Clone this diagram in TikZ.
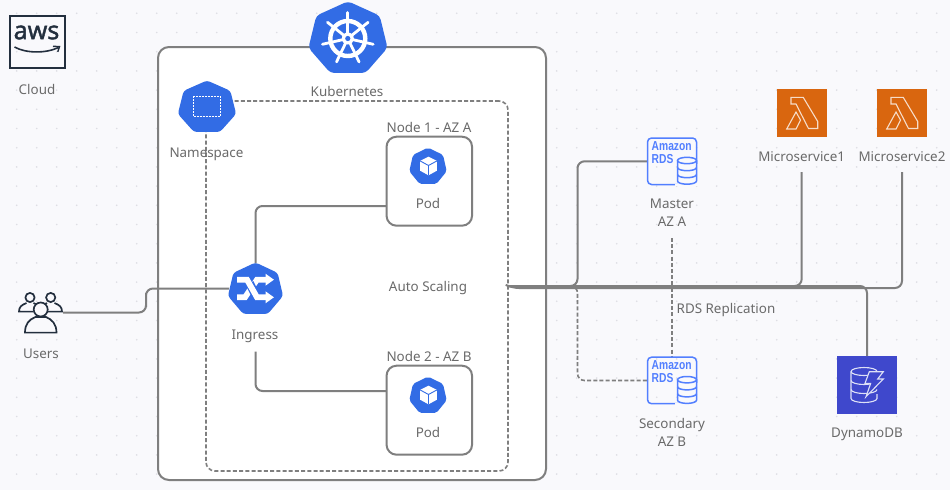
\documentclass[tikz,border=0pt]{standalone}
\usepackage{fontspec}
\setmainfont{Noto Sans}
\newfontfamily\rdsfont{Liberation Sans}
\newfontfamily\awsfont[FakeBold=1.5]{Noto Sans}
\usetikzlibrary{calc}
\definecolor{bgc}{HTML}{F9F9FC}
\definecolor{dotc}{HTML}{DEDEE4}
\definecolor{linec}{HTML}{7F7F7F}
\definecolor{lblc}{HTML}{6A6A6A}
\definecolor{kblue}{HTML}{326CE5}
\definecolor{rdsblue}{HTML}{527FFF}
\definecolor{lamb}{HTML}{D9660F}
\definecolor{lambl}{HTML}{F6DCC8}
\definecolor{dyn}{HTML}{3F48CC}
\definecolor{dynl}{HTML}{DDE0F6}
\definecolor{awsc}{HTML}{232F3E}
\tikzset{
  conn/.style={draw=linec,line width=2pt,rounded corners=7pt},
  dconn/.style={draw=linec,line width=1.6pt,dash pattern=on 4pt off 2.2pt,rounded corners=7pt},
  lbl2/.style={text=lblc,inner sep=0pt,align=center,font=\fontsize{13.4}{18}\selectfont},
  lbl/.style={lbl2,text height=11pt,text depth=0pt},
  box/.style={inner sep=0pt,outer sep=0pt},
  mainbox/.style={box,draw=linec,line width=2pt,fill=white,rounded corners=11pt,minimum width=388pt,minimum height=433pt},
  scalebox/.style={box,draw=linec,line width=1.6pt,dash pattern=on 4pt off 2.2pt,rounded corners=9pt,minimum width=302pt,minimum height=370pt},
  nodebox/.style={box,draw=linec,line width=2pt,fill=white,rounded corners=10pt,minimum width=85.5pt,minimum height=89pt},
  lambdabox/.style={box,fill=lamb,minimum width=50pt,minimum height=48pt},
  rdsbox/.style={box,minimum width=49.5pt,minimum height=47pt},
}
\newcommand\hept[6]{%
  \node[box,minimum width=#4pt,minimum height=#5pt] (#1) at (#2,#3) {};
  \begin{scope}[shift={(#2,#3)},x=#4*0.52pt,y=-#5*0.51pt]
    \fill[kblue,rounded corners=#6pt] (0,-1) -- (.802,-.603) -- (1,.286) -- (.445,.98) -- (-.445,.98) -- (-1,.286) -- (-.802,-.603) -- cycle;
  \end{scope}}
\newcommand\cubeicon[2]{%
  \begin{scope}[shift={(#1,#2)}]
    \fill[white] (0,-8.8) -- (8.4,-4.6) -- (8.4,5.2) -- (0,9.8) -- (-8.4,5.2) -- (-8.4,-4.6) -- cycle;
    \draw[kblue,line width=.9pt] (-8.4,-4.6) -- (0,0) -- (8.4,-4.6) (0,0) -- (0,9.8);
  \end{scope}}
\newcommand\lambdaicon[2]{%
  \begin{scope}[shift={(#1,#2)}]
    \draw[lambl,line width=1.1pt,line join=miter] (14,8.3) -- (26.2,8.3) -- (40.7,32.5) -- (40.7,39.5) -- (31.5,39.5) -- (19,15) -- (14,15) -- cycle;
    \draw[lambl,line width=1.1pt] (9.7,40) -- (19,23) -- (23.5,31) -- (19,40) -- cycle;
  \end{scope}}
\newcommand\rdsicon[3]{%
  \begin{scope}[shift={(#1,#2)}]
    \draw[rdsblue,line width=1.5pt,rounded corners=4pt] (0,0) rectangle (49,46.5);
    \fill[bgc] (27,46) rectangle (50,48);
    \fill[bgc] (30,26) rectangle (50,46);
    \node[box,text=rdsblue,font=\rdsfont\bfseries\fontsize{13}{13.2}\selectfont,anchor=north west,align=left] (#3) at (4.2,3.6) {\scalebox{.79}[1]{Amazon}\\\scalebox{.79}[1]{RDS}};
    \draw[rdsblue,line width=1.5pt,fill=bgc] (30,22.5) -- (30,43) arc[start angle=180,end angle=360,x radius=9.5,y radius=-3.2] -- (49,22.5);
    \draw[rdsblue,line width=1.5pt,fill=bgc] (39.5,22.5) ellipse (9.5 and 3.2);
    \draw[rdsblue,line width=1.5pt] (30,29.5) arc[start angle=180,end angle=360,x radius=9.5,y radius=-3.2];
    \draw[rdsblue,line width=1.5pt] (30,36.5) arc[start angle=180,end angle=360,x radius=9.5,y radius=-3.2];
  \end{scope}}
\begin{document}
\begin{tikzpicture}[x=1pt,y=-1pt]
\useasboundingbox (0,0) rectangle (950,490);
\fill[bgc] (0,0) rectangle (950,490);
\foreach \i in {0,...,46}{\foreach \j in {0,...,24}{\fill[dotc] ({16.7+20*\i},{13.3+19.2*\j}) circle (.9);}}
% containers
\node[mainbox] (k8s) at (352,263.5) {};
\node[scalebox] (scaling) at (357,286) {};
\node[nodebox] (node1) at (429.3,181.2) {};
\node[nodebox] (node2) at (429.3,410.2) {};
% free ends and bends
\coordinate (node1in) at (386.5,206);
\coordinate (node2in) at (386.5,391);
\coordinate (ingbelow) at (255.5,351.5);
\coordinate (ubend) at (146,300);
\coordinate (mbend) at (577.5,220);
\coordinate (sbend) at (577.5,340);
\coordinate (ms1end) at (801.7,172);
\coordinate (ms2end) at (902,172);
\coordinate (ms2bus) at (512,288);
\coordinate (repltop) at (672,238);
% icon boxes
\node[box,minimum width=45pt,minimum height=43pt] (users) at (40.5,312.5) {};
\node[box,draw=awsc,line width=2pt,minimum width=55pt,minimum height=52pt] (awsbox) at (37,41.5) {};
\hept{ns}{207}{106.5}{56}{51}{3}
\hept{ingress}{255.5}{288.5}{53}{51}{3}
\hept{k8slogo}{348}{37.5}{76}{71}{4}
\hept{pod1}{428}{166}{36}{36}{2}
\hept{pod2}{428}{395}{36}{36}{2}
\node[rdsbox] (master) at (672,161.3) {};
\node[rdsbox] (secondary) at (672,380.5) {};
\node[lambdabox] (ms1) at (802,113) {};
\node[lambdabox] (ms2) at (902,113) {};
\node[box,fill=dyn,minimum width=60pt,minimum height=57.5pt] (dynamo) at (867,384.8) {};
% connectors
\draw[conn] (users.east) -| (ubend) |- (ingress.west);
\draw[conn] (ingress.north) |- (node1in);
\draw[conn] (ingbelow) |- (node2in);
\draw[dconn] (scaling.east) -| (sbend) |- (secondary.west);
\draw[conn] (scaling.east) -| (mbend) |- (master.west);
\draw[conn] (ms1end) |- (scaling.east);
\draw[conn] (ms2end) |- (ms2bus) -- (scaling.east);
\draw[conn] (dynamo.north) |- (scaling.east);
\draw[dconn,rounded corners=0pt] (repltop) -- (secondary.north);
% wheel
\begin{scope}[shift={(347.8,38.5)}]
  \draw[white,line width=4.4pt] (0,0) circle (17.5);
  \foreach \a in {0,...,6}{\draw[white,line width=2.8pt,line cap=round] (0,0) -- ({90+\a*360/7}:-26);}
  \fill[white] (0,0) circle (6);
  \fill[kblue] (0,0) circle (2.6);
\end{scope}
% namespace mark
\draw[white,line width=.9pt,dash pattern=on 2pt off 1pt] (193.3,96) rectangle (220,116.7);
% ingress mark
\draw[white,line width=5.8pt,line join=miter] (237,297.3) -- (245,297.3) -- (257,279.7) -- (266,279.7);
\fill[white] (265.5,273.7) -- (273.9,279.7) -- (265.5,285.7) -- cycle;
\draw[kblue,line width=8.5pt] (249.5,283) -- (254.5,293);
\draw[white,line width=5.8pt,line join=miter] (237,279.7) -- (247,279.7) -- (257,297.3) -- (266,297.3);
\fill[white] (265.5,291.3) -- (273.9,297.3) -- (265.5,303.3) -- cycle;
\cubeicon{428.5}{165.5}
\cubeicon{428.5}{394.5}
\rdsicon{647.5}{138}{rdstxtA}
\rdsicon{647.5}{357.2}{rdstxtB}
\lambdaicon{777}{89}
\lambdaicon{877}{89}
% dynamo mark
\begin{scope}[dynl,line width=1.1pt]
  \draw (851,371.5) -- (851,398.5) arc[start angle=180,end angle=360,x radius=13,y radius=-4] -- (877,394);
  \draw (864,371.5) ellipse (13 and 4);
  \draw (851,380.5) arc[start angle=180,end angle=300,x radius=13,y radius=-4];
  \draw (851,389.5) arc[start angle=180,end angle=360,x radius=13,y radius=-4];
  \draw[fill=dyn,line join=miter] (869.3,371.7) -- (883.3,371.7) -- (877.7,379) -- (883.3,379) -- (866,396.7) -- (870.7,383.3) -- (865,383.3) -- cycle;
\end{scope}
% aws mark
\node[box,text=awsc,font=\awsfont\fontsize{25}{25}\selectfont] (awstxt) at (36.5,32.5) {aws};
\draw[awsc,line width=1.6pt] (14.5,47) .. controls (26,53.5) and (46,53.5) .. (58.5,47.5);
\draw[awsc,line width=1.4pt] (53,46.3) -- (59.5,46.6) -- (57.8,51.8);
% users mark
\begin{scope}[awsc,line width=1.7pt]
  \draw[line join=round] (30,297.5) circle (4.6);
  \draw (50.7,297.5) circle (4.6);
  \draw (33,311.6) -- (19,311.6) .. controls (19,307) and (21.5,305) .. (26.5,303);
  \draw (33.5,303) .. controls (35,303.6) and (37,304.6) .. (38.5,306);
  \draw (48,311.6) -- (62,311.6) .. controls (62,307) and (59.5,305) .. (54.5,303);
  \draw (47,303) .. controls (45.5,303.6) and (44,304.6) .. (42.5,306);
  \draw[fill=bgc] (25,332.6) .. controls (25,324) and (29,319.5) .. (35.5,317) -- (46,317) .. controls (52,319.5) and (56.5,324) .. (56.5,332.6) -- cycle;
  \draw[fill=bgc] (40.7,309.5) circle (7);
\end{scope}
% labels
\node[lbl] (tcloud) at (37,88.5) {Cloud};
\node[lbl] (tk8s) at (347,90.5) {Kubernetes};
\node[lbl] (tns) at (206.5,152) {Namespace};
\node[lbl] (tn1) at (429,127) {Node 1 - AZ A};
\node[lbl] (tp1) at (428,203) {Pod};
\node[lbl] (tn2) at (429,356) {Node 2 - AZ B};
\node[lbl] (tp2) at (428,432) {Pod};
\node[lbl] (ting) at (255,334) {Ingress};
\node[lbl] (tauto) at (428,286) {Auto Scaling};
\node[lbl] (tusers) at (41,353) {Users};
\node[lbl] (trepl) at (726,308) {RDS Replication};
\node[lbl2] (tmaster) at (672,212.5) {Master\\AZ A};
\node[lbl2] (tsec) at (672,432.5) {Secondary\\AZ B};
\node[lbl] (tms1) at (801.7,156) {Microservice1};
\node[lbl] (tms2) at (902,156) {Microservice2};
\node[lbl] (tdyn) at (867,432) {DynamoDB};
\end{tikzpicture}
\end{document}
